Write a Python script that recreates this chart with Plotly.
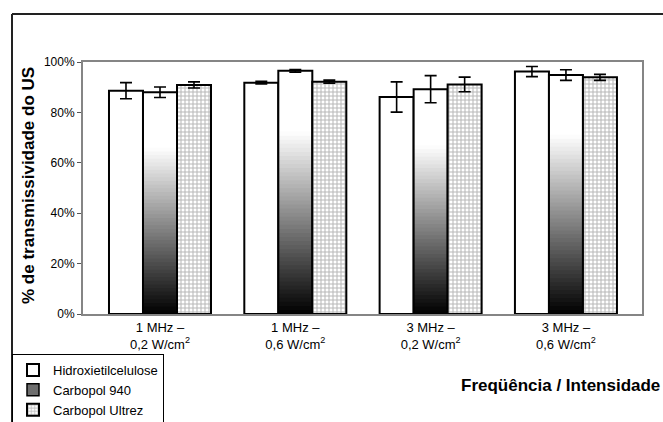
import plotly.graph_objects as go

# ---------------- data ----------------
categories = ["1 MHz –<br>0,2 W/cm<sup>2</sup>", "1 MHz –<br>0,6 W/cm<sup>2</sup>",
              "3 MHz –<br>0,2 W/cm<sup>2</sup>", "3 MHz –<br>0,6 W/cm<sup>2</sup>"]
series_names = ["Hidroxietilcelulose", "Carbopol 940", "Carbopol Ultrez"]
hec_vals = [0.886, 0.918, 0.861, 0.962]
hec_err = [0.032, 0.005, 0.060, 0.020]
c940_vals = [0.880, 0.965, 0.892, 0.948]
c940_err = [0.021, 0.005, 0.054, 0.021]
ultrez_vals = [0.909, 0.922, 0.911, 0.939]
ultrez_err = [0.012, 0.006, 0.029, 0.012]
y_ticks = [0, 0.2, 0.4, 0.6, 0.8, 1.0]

# ---------------- geometry helpers (layout only) ----------------
W, H = 663, 422
ML, MR, MT, MB = 83, 21, 62, 108
PW, PH = W - ML - MR, H - MT - MB
def px(x):
    return (x - ML) / PW
def py(y):
    return (H - MB - y) / PH

xs = list(range(len(categories)))
bw = 0.2513
offsets = [-1.5 * bw, -0.5 * bw, 0.5 * bw]
FONT = "Liberation Sans, Arial, sans-serif"

fig = go.Figure()

# Hidroxietilcelulose - white
fig.add_trace(go.Bar(
    x=xs, y=hec_vals, name=series_names[0], offset=offsets[0], width=bw,
    marker=dict(color="white", line=dict(color="black", width=2)),
    error_y=dict(type="data", array=hec_err, color="black", thickness=1.6, width=6),
    legendrank=1,
))

# Carbopol 940 - vertical gradient (white top -> black bottom) via nested layers
N = 60
for k in range(N):
    frac = (N - k) / N
    t = (N - k - 0.5) / N
    b = int(round(255 * min(1.0, t / 0.75)))
    fig.add_trace(go.Bar(
        x=xs, y=[v * frac for v in c940_vals], offset=offsets[1], width=bw,
        marker=dict(color=f"rgb({b},{b},{b})", line=dict(width=0)),
        showlegend=False, hoverinfo="skip",
    ))
fig.add_trace(go.Bar(
    x=xs, y=c940_vals, offset=offsets[1], width=bw, showlegend=False,
    marker=dict(color="rgba(0,0,0,0)", line=dict(color="black", width=2)),
    error_y=dict(type="data", array=c940_err, color="black", thickness=1.6, width=6),
))
fig.add_trace(go.Bar(
    x=[None], y=[None], name=series_names[1],
    marker=dict(color="#6e6e6e", line=dict(color="black", width=1.5)),
    legendrank=2,
))

# Carbopol Ultrez - dotted pattern
fig.add_trace(go.Bar(
    x=xs, y=ultrez_vals, name=series_names[2], offset=offsets[2], width=bw,
    marker=dict(color="white", line=dict(color="black", width=2),
                pattern=dict(shape="+", size=4, solidity=0.45, fgcolor="#707070", bgcolor="white")),
    error_y=dict(type="data", array=ultrez_err, color="black", thickness=1.6, width=6),
    legendrank=3,
))

fig.update_layout(
    width=W, height=H, margin=dict(l=ML, r=MR, t=MT, b=MB, autoexpand=False),
    barmode="overlay", paper_bgcolor="white", plot_bgcolor="white",
    font=dict(family=FONT, color="black"),
    showlegend=True,
    legend=dict(xref="container", yref="container", x=12 / W, y=1 - 354 / H,
                xanchor="left", yanchor="top",
                bgcolor="white", bordercolor="black", borderwidth=1,
                font=dict(size=13, family=FONT), tracegroupgap=0, itemwidth=30),
    xaxis=dict(range=[-0.569, 3.562], tickvals=xs, ticktext=categories,
               showline=True, linecolor="#858585", linewidth=2, mirror=True,
               ticks="", showgrid=False, zeroline=False,
               tickfont=dict(size=13, family=FONT)),
    yaxis=dict(range=[0, 1.0], tickvals=y_ticks, tickformat=".0%",
               showline=True, linecolor="#858585", linewidth=2, mirror=True,
               ticks="outside", ticklen=4, tickcolor="#555", showgrid=False, zeroline=False,
               tickfont=dict(size=12, family=FONT)),
    shapes=[
        dict(type="line", xref="paper", yref="paper", x0=px(12), x1=px(670), y0=py(14), y1=py(14),
             line=dict(color="#222", width=2)),
        dict(type="line", xref="paper", yref="paper", x0=px(12), x1=px(12), y0=py(14), y1=py(430),
             line=dict(color="#222", width=2)),
    ],
    annotations=[
        dict(text="<b>% de transmissividade do US</b>", xref="paper", yref="paper",
             x=px(28), y=py(186), xanchor="center", yanchor="middle", textangle=-90,
             showarrow=False, font=dict(size=17, family=FONT)),
        dict(text="<b>Freqüência / Intensidade</b>", xref="paper", yref="paper",
             x=px(662), y=py(385), xanchor="right", yanchor="middle", showarrow=False,
             font=dict(size=17, family=FONT)),
    ],
)

fig.write_html("out.html")
